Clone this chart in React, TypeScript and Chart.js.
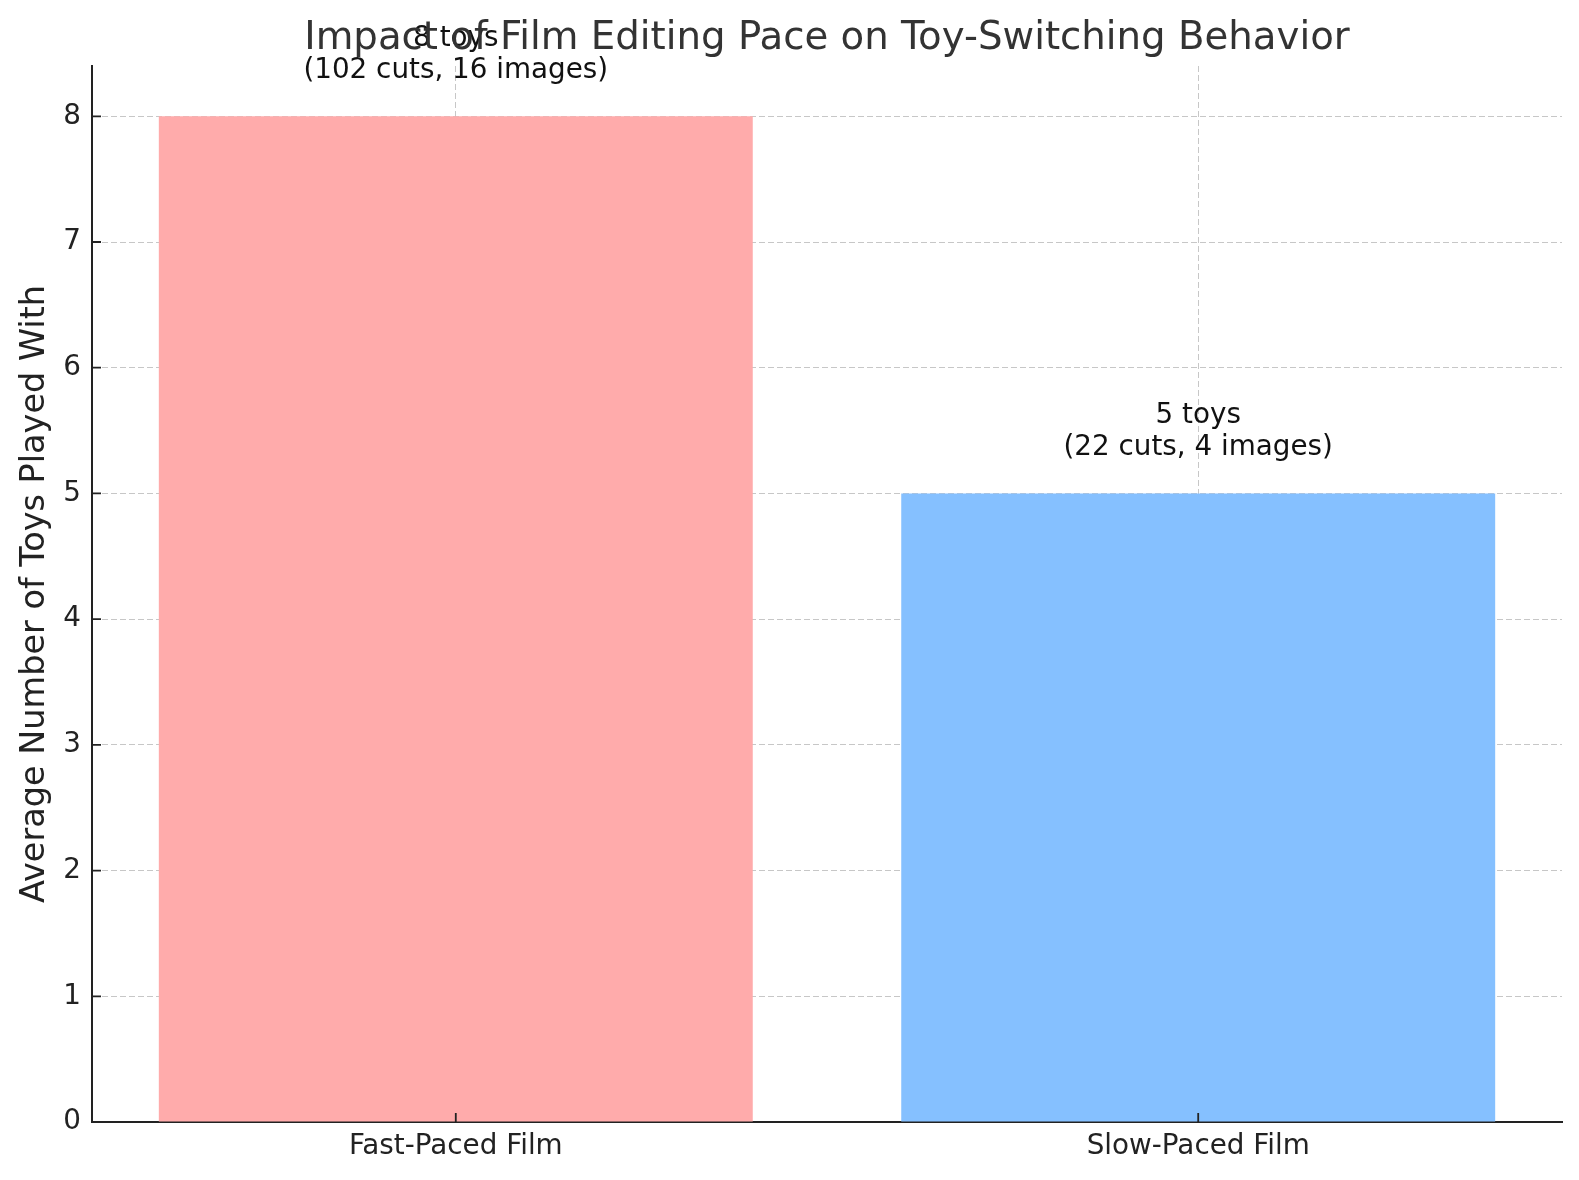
import { useEffect, useRef } from "react";
import { Chart, registerables } from "chart.js";

Chart.register(...registerables);

const TITLE = "Impact of Film Editing Pace on Toy-Switching Behavior";
const Y_LABEL = "Average Number of Toys Played With";
const CATEGORIES = ["Fast-Paced Film", "Slow-Paced Film"];
const TOYS = [8, 5];
const CUTS = [102, 22];
const IMAGES = [16, 4];
const BAR_COLORS = ["#ffabab", "#85c0ff"];
const Y_TICKS = [0, 1, 2, 3, 4, 5, 6, 7, 8];
const Y_MAX = 8.4;

const W = 1579;
const H = 1180;
const FONT = "'DejaVu Sans', sans-serif";
const GRID = "rgba(175,175,175,0.7)";
const INK = "#222";

// title, inward tick marks and the labels above the bars
const overlay = {
  id: "overlay",
  afterDraw(chart: any) {
    const { ctx, chartArea, scales } = chart;
    const x = scales.x;
    const y = scales.y;
    ctx.save();
    ctx.strokeStyle = INK;
    ctx.lineWidth = 1.8;
    ctx.beginPath();
    Y_TICKS.forEach((v) => {
      const py = y.getPixelForValue(v);
      ctx.moveTo(chartArea.left, py);
      ctx.lineTo(chartArea.left + 9, py);
    });
    CATEGORIES.forEach((_, i) => {
      const px = x.getPixelForValue(i);
      ctx.moveTo(px, chartArea.bottom);
      ctx.lineTo(px, chartArea.bottom - 9);
    });
    ctx.stroke();

    ctx.fillStyle = "#111";
    ctx.font = `27.8px ${FONT}`;
    ctx.textAlign = "center";
    ctx.textBaseline = "alphabetic";
    TOYS.forEach((v, i) => {
      const px = x.getPixelForValue(i);
      const base = y.getPixelForValue(v + 0.3) - 1;
      ctx.fillText(`(${CUTS[i]} cuts, ${IMAGES[i]} images)`, px, base);
      ctx.fillText(`${v} toys`, px, base - 31.5);
    });

    ctx.fillStyle = "#333";
    ctx.font = `38.7px ${FONT}`;
    ctx.fillText(TITLE, (chartArea.left + chartArea.right) / 2, 48.5);
    ctx.restore();
  },
};

function ToyChart() {
  const canvasRef = useRef<HTMLCanvasElement | null>(null);

  useEffect(() => {
    const canvas = canvasRef.current;
    if (!canvas) return;
    const chart = new Chart(canvas, {
      type: "bar",
      data: {
        datasets: [
          {
            data: TOYS.map((v, i) => ({ x: i, y: v })),
            backgroundColor: BAR_COLORS,
            borderWidth: 0,
            barPercentage: 0.8,
            categoryPercentage: 1,
          },
        ],
      },
      options: {
        animation: false,
        responsive: false,
        devicePixelRatio: 1,
        layout: { padding: { top: 66, right: 17, left: 0, bottom: 0 } },
        plugins: {
          legend: { display: false },
          tooltip: { enabled: false },
          title: { display: false },
        },
        scales: {
          x: {
            type: "linear",
            min: -0.49,
            max: 1.49,
            offset: false,
            z: 1,
            afterBuildTicks: (s: any) => {
              s.ticks = CATEGORIES.map((_, i) => ({ value: i }));
            },
            afterFit: (s: any) => {
              s.height = 58;
            },
            grid: { color: GRID, lineWidth: 1, drawTicks: false, offset: false },
            border: { display: true, color: INK, width: 2, dash: [6, 3] },
            ticks: {
              callback: (_v: any, i: number) => CATEGORIES[i],
              color: INK,
              font: { family: FONT, size: 27.8 },
              padding: 8,
              autoSkip: false,
              maxRotation: 0,
            },
          },
          y: {
            type: "linear",
            min: 0,
            max: Y_MAX,
            z: 1,
            afterBuildTicks: (s: any) => {
              s.ticks = Y_TICKS.map((v) => ({ value: v }));
            },
            afterFit: (s: any) => {
              s.width = 92;
            },
            grid: { color: GRID, lineWidth: 1, drawTicks: false },
            border: { display: true, color: INK, width: 2, dash: [6, 3] },
            ticks: {
              color: INK,
              font: { family: FONT, size: 27.8 },
              padding: 11,
            },
            title: {
              display: true,
              text: Y_LABEL,
              color: INK,
              font: { family: FONT, size: 33.5 },
              padding: { top: 15, bottom: 0 },
            },
          },
        },
      },
      plugins: [overlay],
    } as any);
    return () => chart.destroy();
  }, []);

  return (
    <div style={{ position: "fixed", left: 0, top: 0, width: W, height: H, background: "#fff" }}>
      <canvas ref={canvasRef} width={W} height={H} style={{ display: "block", width: W, height: H }} />
    </div>
  );
}

export default function App() {
  return <ToyChart />;
}
